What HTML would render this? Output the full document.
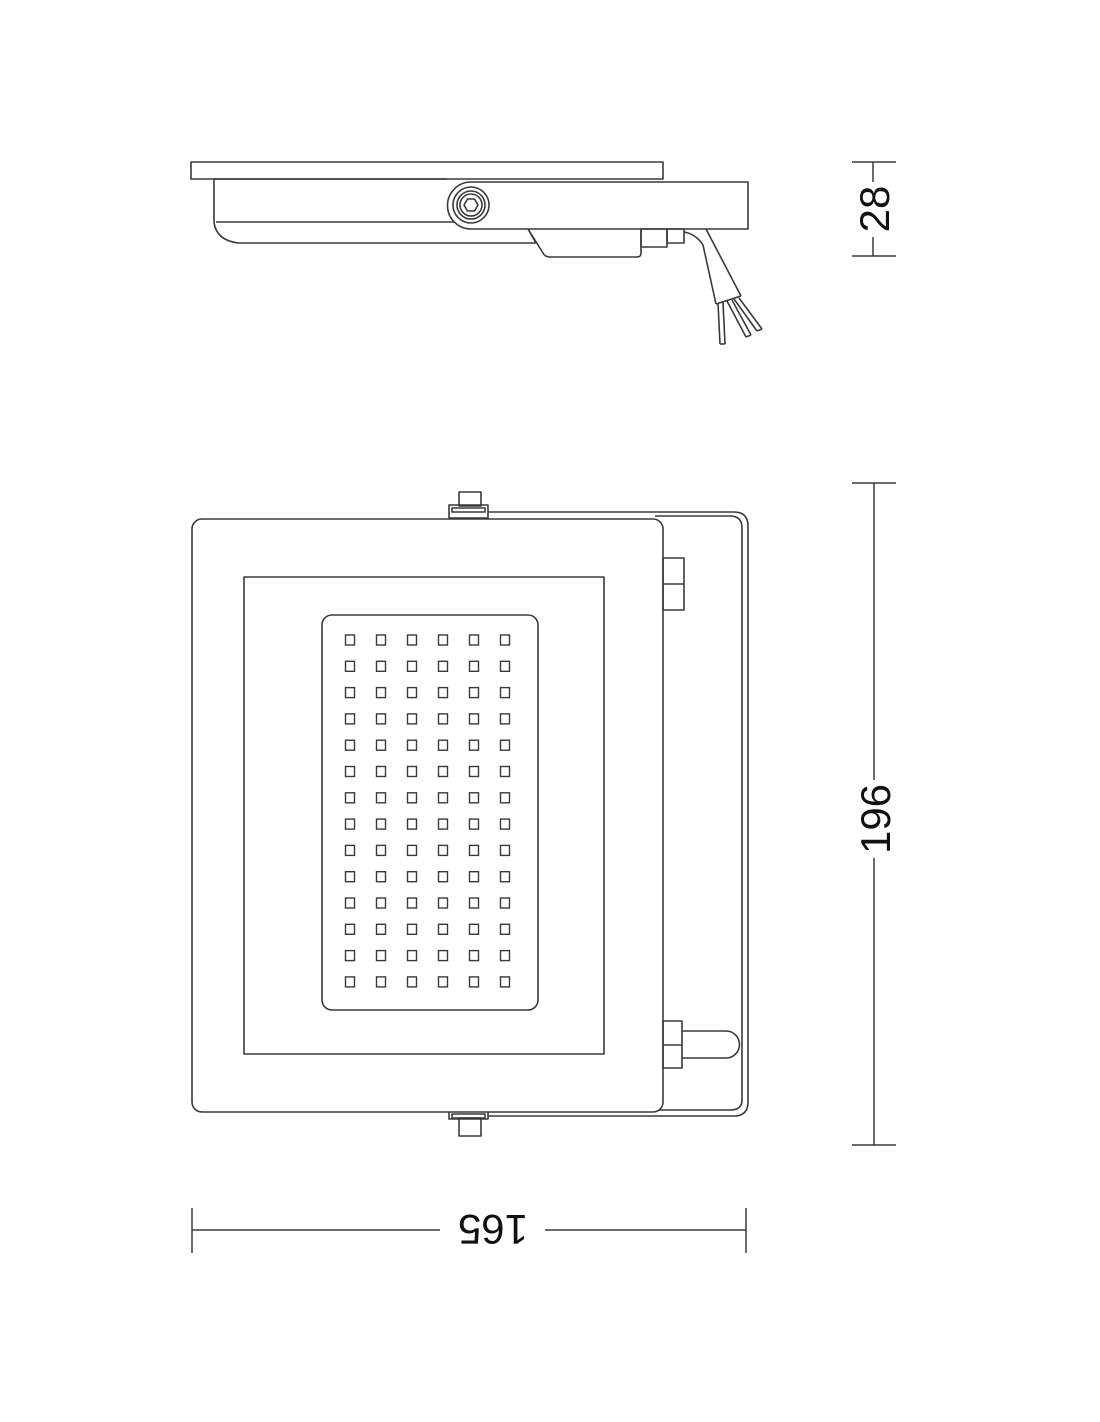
<!DOCTYPE html>
<html><head><meta charset="utf-8"><style>html,body{margin:0;padding:0;background:#fff}svg{display:block}</style></head>
<body>
<svg width="1100" height="1422" viewBox="0 0 1100 1422" xmlns="http://www.w3.org/2000/svg">
<g fill="none" stroke="#3a3a3a" stroke-width="1.6" stroke-linejoin="round">
<rect x="191" y="162" width="472" height="17"/>
<path d="M214 179 V222 Q216 240 238 243 H536"/>
<line x1="216" y1="222" x2="455" y2="222"/>
<path d="M214 179 H447"/>
<path d="M471 182 H748 V229 H471 A23.5 23.5 0 0 1 471 182 Z" fill="#fff"/>
<circle cx="471" cy="205" r="18"/>
<circle cx="471" cy="205" r="14"/>
<circle cx="471" cy="205" r="11"/>
<polygon points="478,205 474.5,211 467.5,211 464,205 467.5,199 474.5,199"/>
<path d="M528 229 L543 253 Q545 257 550 257 H637 Q641 257 641 253 V229"/>
<path d="M528 229 L536 243"/>
<rect x="641" y="229" width="26" height="18"/>
<rect x="667" y="229" width="17" height="14"/>
<path d="M684 232 Q696 234 703 245 L716 304"/>
<path d="M706 229 L741 296"/>
<line x1="716" y1="304" x2="741" y2="296"/>
<path d="M718 303 L720 344 M723 302 L725 344 M720 344 H725"/>
<path d="M727 301 L746 337 M732 300 L751 335 M746 337 L751 335"/>
<path d="M734 299 L757 331 M739 298 L762 329 M757 331 L762 329"/>

<path d="M449 512 H734 Q748 512 748 526 V1102 Q748 1116 734 1116 H449"/>
<path d="M655 516 H730 Q742 516 742 528 V1100 Q742 1110 730 1110 H655"/>
<rect x="449" y="505" width="39" height="13" fill="#fff"/>
<rect x="452" y="508" width="33" height="4"/>
<rect x="459" y="492" width="22" height="14"/>
<rect x="449" y="1110" width="39" height="9" fill="#fff"/>
<rect x="452" y="1114" width="33" height="4"/>
<rect x="459" y="1118" width="22" height="18"/>
<rect x="192" y="519" width="471" height="593" rx="10" fill="#fff"/>
<rect x="244" y="577" width="360" height="477"/>
<rect x="322" y="615" width="216" height="395" rx="10"/>
<rect x="663" y="558" width="21" height="52"/>
<line x1="663" y1="584" x2="684" y2="584"/>
<rect x="663" y="1021" width="19" height="47"/>
<line x1="663" y1="1045" x2="682" y2="1045"/>
<path d="M682 1031 H726 A13.5 13.5 0 0 1 726 1058 H682"/>
</g>
<g fill="none" stroke="#3a3a3a" stroke-width="1.4" id="leds">
</g>
<g stroke="#3a3a3a" stroke-width="1.5">
<line x1="852" y1="162" x2="896" y2="162"/>
<line x1="852" y1="256" x2="896" y2="256"/>
<line x1="873" y1="162" x2="873" y2="182"/>
<line x1="873" y1="237" x2="873" y2="256"/>
<line x1="852" y1="483" x2="896" y2="483"/>
<line x1="852" y1="1145" x2="896" y2="1145"/>
<line x1="874" y1="483" x2="874" y2="780"/>
<line x1="874" y1="858" x2="874" y2="1145"/>
<line x1="192" y1="1208" x2="192" y2="1253"/>
<line x1="746" y1="1208" x2="746" y2="1253"/>
<line x1="192" y1="1230" x2="440" y2="1230"/>
<line x1="545" y1="1230" x2="746" y2="1230"/>
</g>
<g font-family="Liberation Sans, sans-serif" font-size="42" fill="#111" text-anchor="middle">
<text transform="translate(889 209) rotate(-90)">28</text>
<text transform="translate(890 819) rotate(-90)">196</text>
<text transform="translate(493 1215) rotate(180)">165</text>
</g>
<script>
(function(){var g=document.getElementById('leds');var xs=[350,381,412,443,474,505];
for(var r=0;r<14;r++){var y=640+r*26.3;for(var c=0;c<6;c++){var e=document.createElementNS('http://www.w3.org/2000/svg','rect');
e.setAttribute('x',xs[c]-4.5);e.setAttribute('y',y-5);e.setAttribute('width',9);e.setAttribute('height',10);g.appendChild(e);}}})();
</script>
</svg>
</body></html>
